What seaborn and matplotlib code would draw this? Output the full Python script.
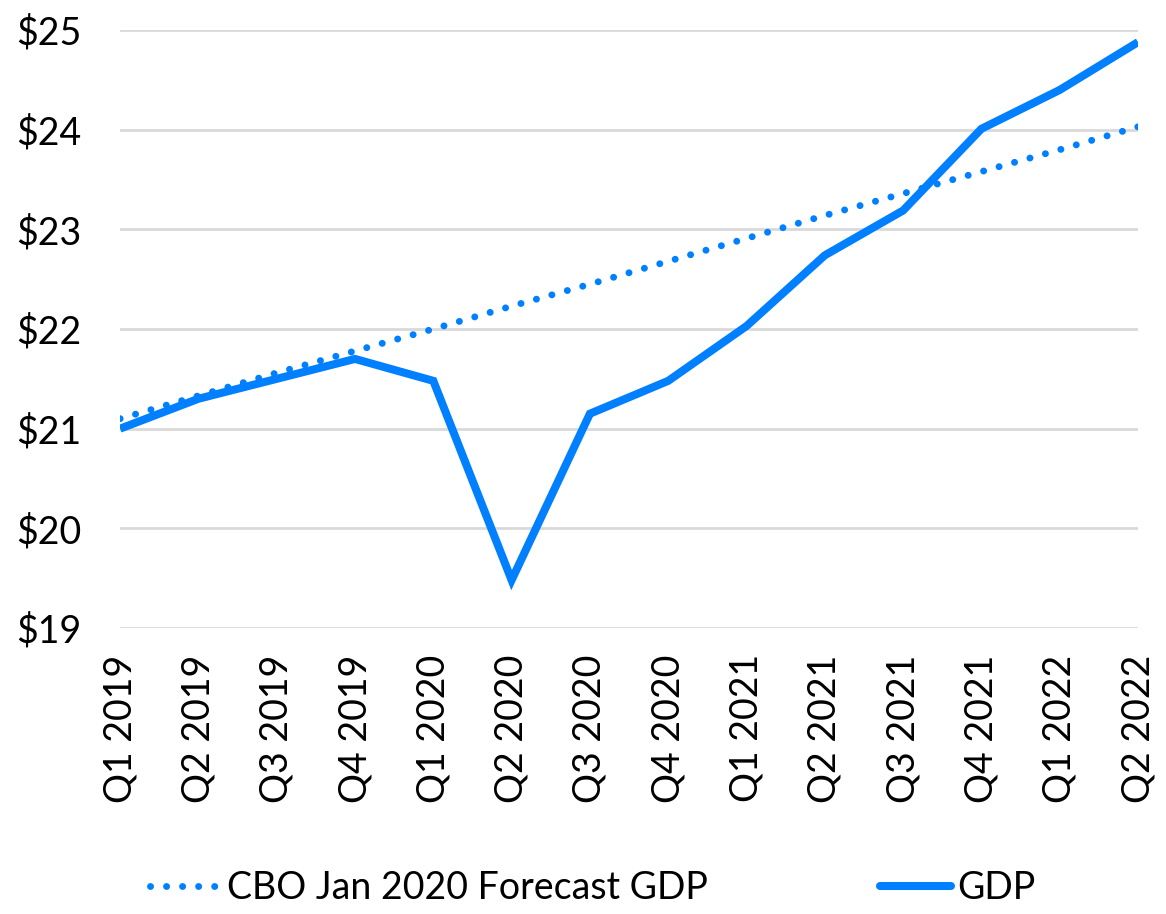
import matplotlib
matplotlib.use("Agg")
import matplotlib.pyplot as plt
import seaborn as sns
import pandas as pd
from matplotlib.lines import Line2D

quarters = ["Q1 2019", "Q2 2019", "Q3 2019", "Q4 2019", "Q1 2020", "Q2 2020", "Q3 2020",
            "Q4 2020", "Q1 2021", "Q2 2021", "Q3 2021", "Q4 2021", "Q1 2022", "Q2 2022"]
gdp = [21.00, 21.30, 21.50, 21.70, 21.48, 19.48, 21.15, 21.48, 22.03, 22.74, 23.19, 24.01, 24.40, 24.88]
cbo = [21.10, 21.33, 21.56, 21.78, 22.00, 22.23, 22.45, 22.68, 22.91, 23.14, 23.36, 23.58, 23.80, 24.03]
yticks = [19, 20, 21, 22, 23, 24, 25]
ytick_labels = ["$19", "$20", "$21", "$22", "$23", "$24", "$25"]
series_names = ["CBO Jan 2020 Forecast GDP", "GDP"]

color = "#0080FF"

sns.set_theme(style="white")
plt.rcParams["font.family"] = ["Lato", "DejaVu Sans"]
plt.rcParams["text.color"] = "black"
plt.rcParams["xtick.color"] = "black"
plt.rcParams["ytick.color"] = "black"

df = pd.DataFrame({"idx": list(range(len(quarters))), "cbo": cbo, "gdp": gdp})

fig = plt.figure(figsize=(11.66, 9.14), dpi=100)
ax = fig.add_axes([0.103, 0.313, 0.873, 0.654])

dot_style = (0, (0.01, 2.3))
sns.lineplot(data=df, x="idx", y="gdp", ax=ax, color=color, linewidth=5.8,
             solid_capstyle="butt", solid_joinstyle="miter", zorder=3)
sns.lineplot(data=df, x="idx", y="cbo", ax=ax, color=color, linewidth=5.0,
             linestyle=dot_style, dash_capstyle="round", zorder=4)

ax.set_xlim(0, len(quarters) - 1)
ax.set_ylim(19, 25)
ax.set_yticks(yticks)
ax.set_yticklabels(ytick_labels, fontsize=27, color="black")
ax.set_xticks(range(len(quarters)))
ax.set_xticklabels(quarters, rotation=90, fontsize=27, color="black")
ax.set_xlabel("")
ax.set_ylabel("")
ax.yaxis.grid(True, color="#D9D9D9", linewidth=2, zorder=0)
ax.xaxis.grid(False)
for s in ax.spines.values():
    s.set_visible(False)
ax.tick_params(axis="both", length=0)
ax.tick_params(axis="x", pad=19)
ax.tick_params(axis="y", pad=28)

handles = [
    Line2D([], [], color=color, linewidth=5.0, linestyle=dot_style, dash_capstyle="round"),
    Line2D([], [], color=color, linewidth=5.8, solid_capstyle="round"),
]
leg = fig.legend(handles, series_names, loc="center", bbox_to_anchor=(0.508, 0.028), ncol=2,
                 frameon=False, fontsize=27, handlelength=1.9, handletextpad=0.15,
                 columnspacing=4.6)
for t in leg.get_texts():
    t.set_color("black")

fig.savefig("out.png", dpi=100)
